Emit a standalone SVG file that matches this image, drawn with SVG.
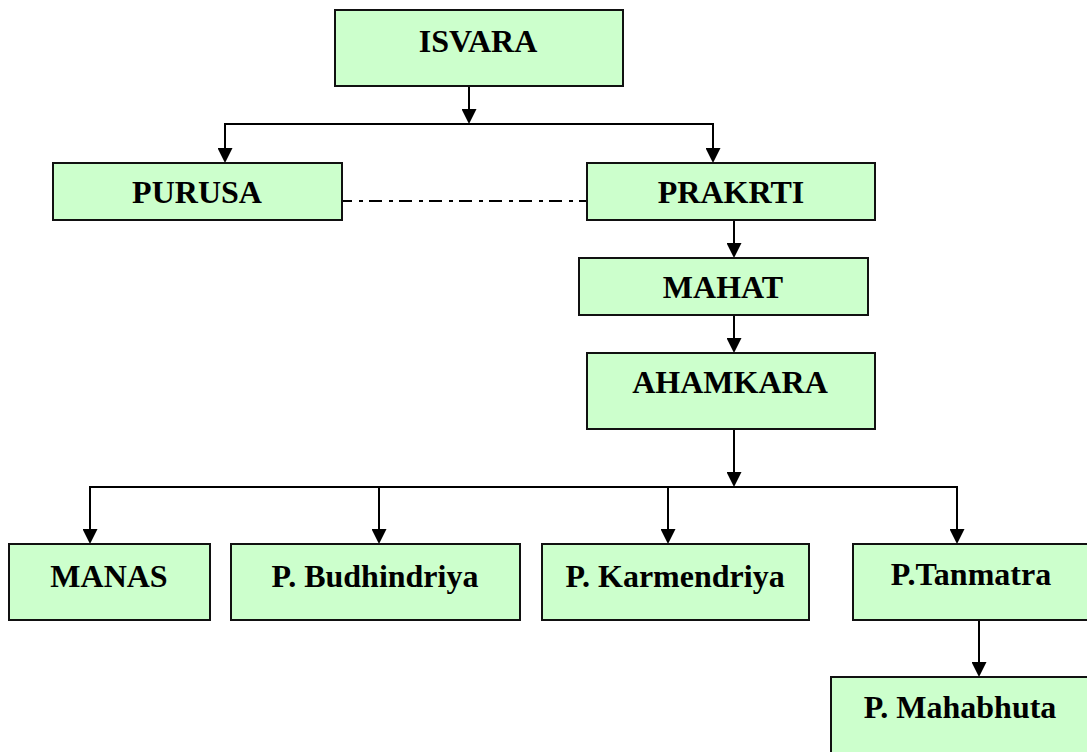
<svg xmlns="http://www.w3.org/2000/svg" width="1087" height="752" viewBox="0 0 1087 752">
  <style>
    .box { fill: #CCFFCC; stroke: #111111; stroke-width: 2; }
    .lbl { font-family: "Liberation Serif", "Times New Roman", serif; font-weight: bold; font-size: 32px; fill: #000000; text-anchor: middle; }
    .conn { stroke: #000000; stroke-width: 2; fill: none; }
    .arr { marker-end: url(#head); }
    .dashdot { stroke-dasharray: 13 7 4 6; stroke-dashoffset: 3; }
  </style>
  <defs>
    <marker id="head" markerUnits="userSpaceOnUse" markerWidth="15" markerHeight="15" refX="7" refY="7.5" orient="auto">
      <path d="M0,0 L15,7.5 L0,15 Z" fill="#000000"/>
    </marker>
  </defs>
  <rect width="1087" height="752" fill="#FFFFFF"/>

  <g id="connectors">
    <line class="conn arr" x1="469" y1="86" x2="469" y2="116"/>
    <line class="conn" x1="224" y1="124" x2="714" y2="124"/>
    <line class="conn arr" x1="225" y1="124" x2="225" y2="155"/>
    <line class="conn arr" x1="713" y1="124" x2="713" y2="155"/>
    <line class="conn dashdot" x1="342" y1="201" x2="587" y2="201"/>
    <line class="conn arr" x1="734" y1="220" x2="734" y2="250"/>
    <line class="conn arr" x1="734" y1="315" x2="734" y2="345"/>
    <line class="conn arr" x1="734" y1="429" x2="734" y2="479"/>
    <line class="conn" x1="89" y1="487" x2="958" y2="487"/>
    <line class="conn arr" x1="90" y1="487" x2="90" y2="536"/>
    <line class="conn arr" x1="379" y1="487" x2="379" y2="536"/>
    <line class="conn arr" x1="668" y1="487" x2="668" y2="536"/>
    <line class="conn arr" x1="957" y1="487" x2="957" y2="536"/>
    <line class="conn arr" x1="979" y1="620" x2="979" y2="669"/>
  </g>

  <g id="isvara">
    <rect class="box" x="335" y="10" width="288" height="76"/>
    <text class="lbl" x="478" y="52">ISVARA</text>
  </g>
  <g id="purusa">
    <rect class="box" x="53" y="163" width="289" height="57"/>
    <text class="lbl" x="197" y="203">PURUSA</text>
  </g>
  <g id="prakrti">
    <rect class="box" x="587" y="163" width="288" height="57"/>
    <text class="lbl" x="731" y="203">PRAKRTI</text>
  </g>
  <g id="mahat">
    <rect class="box" x="579" y="258" width="289" height="57"/>
    <text class="lbl" x="723" y="298">MAHAT</text>
  </g>
  <g id="ahamkara">
    <rect class="box" x="587" y="353" width="288" height="76"/>
    <text class="lbl" x="730" y="393">AHAMKARA</text>
  </g>
  <g id="manas">
    <rect class="box" x="9" y="544" width="201" height="76"/>
    <text class="lbl" x="109" y="587">MANAS</text>
  </g>
  <g id="budhindriya">
    <rect class="box" x="231" y="544" width="289" height="76"/>
    <text class="lbl" x="375" y="587">P. Budhindriya</text>
  </g>
  <g id="karmendriya">
    <rect class="box" x="542" y="544" width="267" height="76"/>
    <text class="lbl" x="675" y="587">P. Karmendriya</text>
  </g>
  <g id="tanmatra">
    <rect class="box" x="853" y="544" width="236" height="76"/>
    <text class="lbl" x="971" y="585">P.Tanmatra</text>
  </g>
  <g id="mahabhuta">
    <rect class="box" x="831" y="677" width="258" height="77"/>
    <text class="lbl" x="960" y="718">P. Mahabhuta</text>
  </g>
</svg>
